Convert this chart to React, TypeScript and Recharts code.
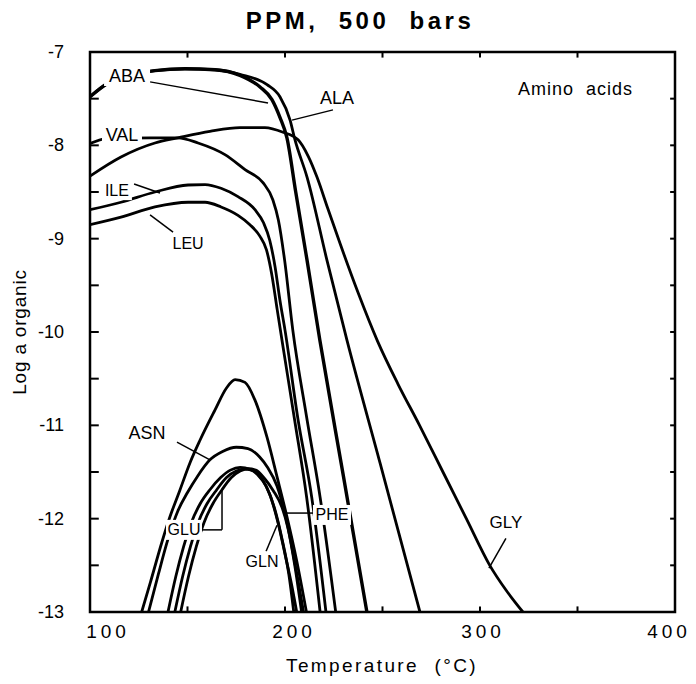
import React from 'react';
import {
  LineChart,
  Line,
  XAxis,
  YAxis,
  Label,
  ReferenceLine,
  ReferenceDot,
  ReferenceArea
} from 'recharts';

const FONT = '"Liberation Sans", Arial, Helvetica, sans-serif';

// each row: [temperature °C, log a]
const aba = [[100, -7.48], [108.7, -7.34], [120.5, -7.25], [133.3, -7.2], [148.7, -7.18], [164.1, -7.19], [176.9, -7.25], [187.2, -7.375], [193.3, -7.51], [197.4, -7.7], [201, -7.92], [205.5, -8.5], [211.3, -9.23], [217.9, -10.09], [230, -11.55], [242, -13]];
const ala = [[100, -7.48], [108.7, -7.34], [120.5, -7.25], [133.3, -7.2], [148.7, -7.18], [164.1, -7.19], [176.9, -7.24], [190.8, -7.35], [197.4, -7.48], [202.6, -7.73], [205.1, -7.94], [211.3, -8.34], [221.5, -9.23], [231.8, -10.09], [248.7, -11.4], [269.2, -13]];
const val = [[100, -7.98], [108, -7.93], [130.8, -7.92], [145.1, -7.92], [155.4, -7.975], [169.2, -8.1], [179.5, -8.26], [188.7, -8.4], [193.8, -8.585], [196.6, -8.8], [199.8, -9.23], [204, -9.98], [211, -10.9], [218, -11.77], [226, -13]];
const ile = [[100, -8.69], [115.9, -8.61], [133.3, -8.5], [150.3, -8.425], [159, -8.42], [167.2, -8.46], [175.9, -8.55], [184.6, -8.69], [189, -8.83], [192.2, -9.02], [194.9, -9.3], [197.4, -9.66], [200, -9.98], [206.7, -10.94], [213.7, -11.77], [221, -13]];
const leu = [[100, -8.85], [115.9, -8.77], [133.3, -8.66], [150.3, -8.61], [159, -8.61], [167.2, -8.66], [175.9, -8.75], [182, -8.85], [187, -8.97], [190.5, -9.12], [193.2, -9.38], [196, -9.76], [198.7, -10.12], [205, -10.95], [211.1, -11.77], [218, -13]];
const gly = [[100, -8.33], [115.9, -8.125], [133.3, -7.975], [145.1, -7.92], [161.5, -7.85], [176.9, -7.81], [189.7, -7.81], [199, -7.86], [206.7, -7.94], [212, -8.12], [216.4, -8.34], [222, -8.68], [228.2, -9.05], [237.5, -9.58], [247.5, -10.1], [258, -10.56], [269, -11.0], [281, -11.5], [293, -12.0], [305, -12.5], [313.5, -12.77], [322, -13]];
const topArch = [[126.5, -13], [131, -12.68], [136.9, -12.25], [141, -11.98], [146, -11.7], [151.3, -11.4], [156.4, -11.16], [164, -10.84], [170, -10.6], [174.4, -10.51], [179.5, -10.54], [184.6, -10.73], [190.8, -11.13], [195.9, -11.55], [201, -11.98], [206, -12.45], [211, -13]];
const asn = [[130, -13], [135, -12.6], [140, -12.22], [145, -11.92], [150, -11.72], [155, -11.55], [161.5, -11.37], [168, -11.28], [175, -11.235], [181, -11.25], [187, -11.34], [191, -11.45], [195.9, -11.65], [200, -11.95], [203.5, -12.3], [207, -12.7], [209.5, -13]];
const glu = [[140, -13], [144, -12.62], [148, -12.3], [152, -12.04], [156.5, -11.84], [161.5, -11.69], [167, -11.56], [172, -11.48], [177, -11.45], [182, -11.47], [186, -11.53], [190.5, -11.66], [194.5, -11.88], [198.5, -12.22], [202, -12.6], [204.5, -13]];
const gln = [[143.5, -13], [147.5, -12.62], [151.5, -12.3], [155.5, -12.04], [160, -11.84], [165, -11.69], [170, -11.56], [175, -11.49], [179.5, -11.47], [184, -11.49], [188, -11.57], [192, -11.73], [196.5, -12.05], [200, -12.38], [203.5, -12.72], [206, -13]];
const phe = [[146.5, -13], [150.5, -12.62], [154.5, -12.3], [158.5, -12.04], [163, -11.84], [167.7, -11.69], [172.5, -11.56], [177, -11.49], [181, -11.465], [185, -11.48], [189.5, -11.57], [194, -11.7], [198.5, -11.88], [201.5, -12.1], [205, -12.5], [208.5, -13]];

const curves = [
  { name: 'ABA', rows: aba, width: 3.4 },
  { name: 'ALA', rows: ala, width: 2.8 },
  { name: 'VAL', rows: val, width: 2.8 },
  { name: 'ILE', rows: ile, width: 2.8 },
  { name: 'LEU', rows: leu, width: 2.8 },
  { name: 'GLY', rows: gly, width: 2.8 },
  { name: 'top', rows: topArch, width: 2.8 },
  { name: 'ASN', rows: asn, width: 2.8 },
  { name: 'GLU', rows: glu, width: 2.8 },
  { name: 'GLN', rows: gln, width: 2.8 },
  { name: 'PHE', rows: phe, width: 2.8 }
];

const xTicks = [100, 200, 300, 400];
const yTicks = [-13, -12, -11, -10, -9, -8, -7];
const xMarks = [150, 200, 250, 300, 350];
const yMarks = [-12.5, -12, -11.5, -11, -10.5, -10, -9.5, -9, -8.5, -8, -7.5];

// curve names placed on the plot, in data units
const tags = [
  { text: 'ABA', T: 119, L: -7.257, w: 46, size: 18 },
  { text: 'VAL', T: 116.4, L: -7.89, w: 40, size: 18 },
  { text: 'ALA', T: 226.7, L: -7.49, w: 42, size: 18 },
  { text: 'ILE', T: 113.8, L: -8.48, w: 30, size: 16 },
  { text: 'LEU', T: 150.3, L: -9.05, w: 36, size: 16 },
  { text: 'ASN', T: 129.2, L: -11.08, w: 42, size: 18 },
  { text: 'GLU', T: 148.2, L: -12.12, w: 36, size: 16 },
  { text: 'GLN', T: 188.2, L: -12.46, w: 36, size: 16 },
  { text: 'PHE', T: 224.1, L: -11.96, w: 38, size: 16 },
  { text: 'GLY', T: 313.3, L: -12.04, w: 36, size: 17 }
];

const leaders = [
  [[130.8, -7.32], [191.3, -7.546]],
  [[224.6, -7.62], [203.6, -7.73]],
  [[122.6, -8.414], [135.9, -8.51]],
  [[130.8, -8.746], [142.6, -8.93]],
  [[144.6, -11.18], [161.5, -11.37]],
  [[157.4, -12.12], [167.7, -12.12], [167.7, -11.69]],
  [[190.3, -12.35], [195.9, -12.07]],
  [[201, -11.94], [215.4, -11.94]],
  [[313.3, -12.21], [304.6, -12.53]]
];

const toPts = (rows: number[][]) => rows.map(([T, L]) => ({ T, L }));

const tagShape = (text: string, w: number, size: number) => (props: any) => {
  const { cx, cy } = props;
  return (
    <g>
      <rect x={cx - w / 2} y={cy - 10} width={w} height={20} fill="#fff" />
      <text
        x={cx}
        y={cy}
        textAnchor="middle"
        dominantBaseline="central"
        fontFamily={FONT}
        fontSize={size}
        fill="#000"
      >
        {text}
      </text>
    </g>
  );
};

// the scanned labels sit a little off their ticks
const xTickShift: Record<number, number> = { 100: 18, 200: 9, 300: 3, 400: -6 };

const XTick = ({ x, y, payload }: any) => (
  <text
    x={x + (xTickShift[payload.value] ?? 4)}
    y={y}
    dy={14}
    textAnchor="middle"
    fontFamily={FONT}
    fontSize={19}
    letterSpacing={4}
    fill="#000"
  >
    {payload.value}
  </text>
);

const YTick = ({ x, y, payload }: any) => (
  <text x={x} y={y} dy={6} textAnchor="end" fontFamily={FONT} fontSize={18} fill="#000">
    {payload.value}
  </text>
);

export default function App() {
  return (
    <div style={{ position: 'relative', width: 686, height: 668, background: '#fff' }}>
      <div
        style={{
          position: 'absolute',
          left: 0,
          top: 1,
          width: 704,
          textAlign: 'center',
          fontFamily: FONT,
          fontWeight: 'bold',
          fontSize: 24,
          lineHeight: '24px',
          letterSpacing: 3.5,
          whiteSpace: 'pre'
        }}
      >
        {'PPM,  500  bars'}
      </div>
      <LineChart width={686} height={668} margin={{ top: 44, right: 19, bottom: 24, left: 22 }}>
        <XAxis
          type="number"
          dataKey="T"
          domain={[100, 400]}
          ticks={xTicks}
          allowDataOverflow
          axisLine={false}
          tickLine={false}
          tickSize={0}
          tickMargin={12}
          height={40}
          tick={<XTick />}
        >
          <Label
            content={() => (
              <text x={374} y={664} textAnchor="middle" fontFamily={FONT} fontSize={19} letterSpacing={2.4} fill="#000" style={{ whiteSpace: 'pre' }}>
                {'Temperature  (°C)'}
              </text>
            )}
          />
        </XAxis>
        <YAxis
          type="number"
          domain={[-13, -7]}
          ticks={yTicks}
          allowDataOverflow
          axisLine={false}
          tickLine={false}
          tickSize={0}
          tickMargin={26}
          width={60}
          tick={<YTick />}
        >
          <Label
            content={() => (
              <text
                x={11}
                y={324}
                transform="rotate(-90 11 324)"
                textAnchor="middle"
                dominantBaseline="central"
                fontFamily={FONT}
                fontSize={19}
                letterSpacing={0.8}
                fill="#000"
              >
                Log a organic
              </text>
            )}
          />
        </YAxis>

        <ReferenceArea x1={100} x2={400} y1={-13} y2={-7} fill="none" stroke="#000" strokeWidth={2.5} fillOpacity={0} />

        {curves.map(c => (
          <Line
            key={c.name}
            data={toPts(c.rows)}
            dataKey="L"
            type="monotone"
            stroke="#000"
            strokeWidth={c.width}
            dot={false}
            activeDot={false}
            isAnimationActive={false}
          />
        ))}

        {/* inward tick marks on all four sides */}
        {xMarks.map(t => (
          <ReferenceLine key={`xb${t}`} segment={[{ x: t, y: -13 }, { x: t, y: -12.94 }]} stroke="#000" strokeWidth={2} />
        ))}
        {xMarks.map(t => (
          <ReferenceLine key={`xt${t}`} segment={[{ x: t, y: -7 }, { x: t, y: -7.06 }]} stroke="#000" strokeWidth={2} />
        ))}
        {yMarks.map(v => (
          <ReferenceLine key={`yl${v}`} segment={[{ x: 100, y: v }, { x: 104.5, y: v }]} stroke="#000" strokeWidth={2} />
        ))}
        {yMarks.map(v => (
          <ReferenceLine key={`yr${v}`} segment={[{ x: 400, y: v }, { x: 397.5, y: v }]} stroke="#000" strokeWidth={2} />
        ))}

        {tags.map(t => (
          <ReferenceDot key={t.text} x={t.T} y={t.L} r={0} shape={tagShape(t.text, t.w, t.size)} />
        ))}

        {leaders.flatMap((pts, i) =>
          pts.slice(1).map((p, j) => (
            <ReferenceLine
              key={`ld${i}-${j}`}
              segment={[{ x: pts[j][0], y: pts[j][1] }, { x: p[0], y: p[1] }]}
              stroke="#000"
              strokeWidth={1.5}
            />
          ))
        )}

        <ReferenceDot
          x={319.5}
          y={-7.4}
          r={0}
          shape={(p: any) => (
            <text x={p.cx} y={p.cy} dominantBaseline="central" fontFamily={FONT} fontSize={18} letterSpacing={1} fill="#000" style={{ whiteSpace: 'pre' }}>
              {'Amino  acids'}
            </text>
          )}
        />
      </LineChart>
    </div>
  );
}
